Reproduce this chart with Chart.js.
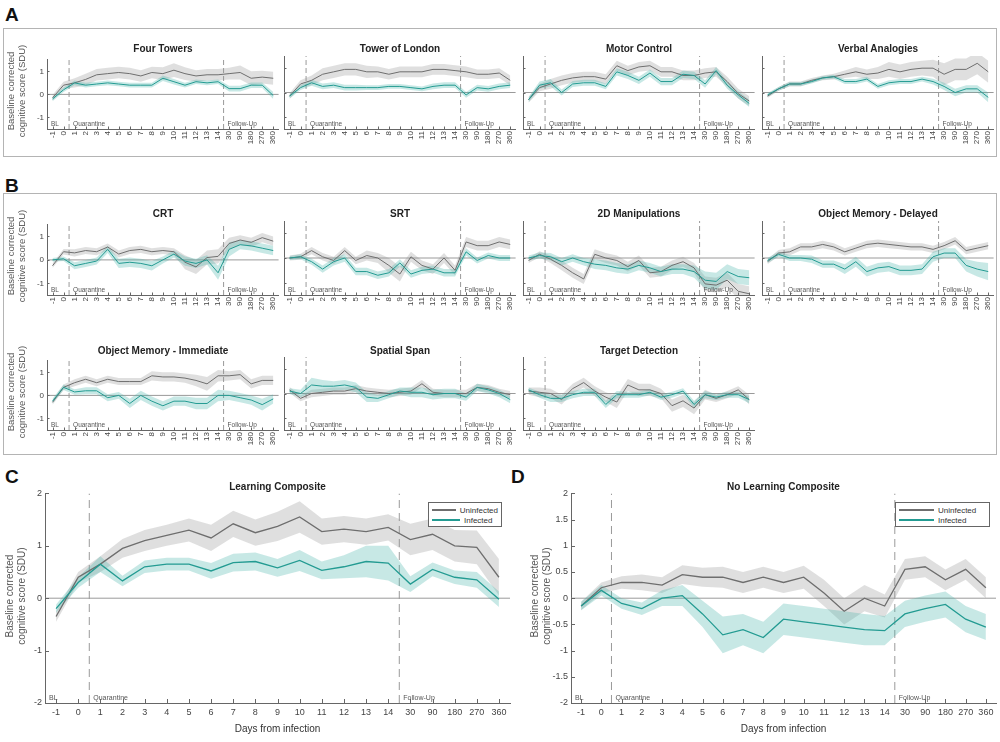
<!DOCTYPE html>
<html><head><meta charset="utf-8">
<script src="https://cdn.jsdelivr.net/npm/chart.js@4.4.1/dist/chart.umd.min.js"></script>
<style>
body{margin:0;background:#fff;font-family:'Liberation Sans',Arial,sans-serif;}
#root{position:relative;width:1000px;height:742px;overflow:hidden;background:#fff;}
.box{position:absolute;border:1.5px solid #b4b4b4;box-sizing:border-box;}
.plab{position:absolute;font-weight:bold;font-size:19px;color:#111;line-height:1;}
.ttl{position:absolute;font-weight:bold;font-size:10px;color:#222;transform:translate(-50%,-50%);white-space:nowrap;}
.ytl{position:absolute;color:#555;text-align:center;white-space:nowrap;transform-origin:50% 50%;transform:rotate(-90deg);}
.leg{position:absolute;border:1px solid #666;background:#fff;box-sizing:border-box;font-size:8px;color:#333;padding:2px 3px;}
.leg .r{display:flex;align-items:center;height:10px;white-space:nowrap;}
.leg .ln{display:inline-block;height:1.3px;margin-right:4px;}
</style></head>
<body><div id="root"></div>
<script>
// ---------------- DATA ----------------
const xLabels = ['-1','0','1','2','3','4','5','6','7','8','9','10','11','12','13','14','30','90','180','270','360'];
const yTicksSmall = [-1, 0, 1];
const yTicksLearning = [-2, -1, 0, 1, 2];
const yTicksNoLearning = [-2, -1.5, -1, -0.5, 0, 0.5, 1, 1.5, 2];
const phaseLabels = ['BL', 'Quarantine', 'Follow-Up'];
const phaseStarts = [-0.5, 1.5, 15.5];      // category-index positions where each phase begins
const phaseBoundaries = [1.5, 15.5];        // dashed lines: between day 0 and 1, between day 14 and 30
const seriesNames = ['Uninfected', 'Infected'];

const fourTowersUninf    = [-0.15,0.4,0.5,0.65,0.85,0.9,0.95,0.9,0.8,0.95,0.9,1.05,0.9,0.8,0.85,0.85,0.9,0.95,0.7,0.75,0.7];
const fourTowersUninfErr = [0.12,0.15,0.2,0.25,0.25,0.25,0.25,0.25,0.25,0.25,0.28,0.3,0.28,0.25,0.25,0.25,0.25,0.3,0.3,0.28,0.28];
const fourTowersInf      = [-0.2,0.2,0.5,0.4,0.45,0.5,0.45,0.4,0.4,0.4,0.7,0.55,0.4,0.55,0.5,0.55,0.25,0.25,0.4,0.4,-0.05];
const fourTowersInfErr   = [0.1,0.1,0.1,0.1,0.1,0.1,0.1,0.1,0.1,0.1,0.12,0.12,0.1,0.1,0.1,0.1,0.12,0.12,0.12,0.12,0.15];

const towerLondonUninf    = [-0.15,0.35,0.5,0.75,0.85,0.95,0.95,0.85,0.85,0.75,0.85,0.85,0.85,0.95,0.95,0.9,0.85,0.75,0.75,0.8,0.5];
const towerLondonUninfErr = [0.12,0.15,0.2,0.25,0.25,0.25,0.25,0.25,0.22,0.22,0.22,0.22,0.22,0.22,0.22,0.22,0.22,0.2,0.2,0.2,0.2];
const towerLondonInf      = [-0.15,0.2,0.4,0.25,0.3,0.2,0.2,0.2,0.2,0.25,0.25,0.2,0.15,0.25,0.3,0.3,-0.1,0.2,0.15,0.25,0.3];
const towerLondonInfErr   = [0.1,0.1,0.12,0.12,0.12,0.12,0.12,0.1,0.1,0.1,0.1,0.1,0.1,0.12,0.12,0.12,0.12,0.12,0.12,0.12,0.12];

const motorUninf    = [-0.3,0.2,0.35,0.5,0.6,0.65,0.65,0.55,1.1,0.9,1.05,1.1,0.85,0.85,0.7,0.7,0.8,0.85,0.45,-0.05,-0.35];
const motorUninfErr = [0.12,0.15,0.2,0.2,0.2,0.2,0.2,0.2,0.2,0.2,0.2,0.2,0.2,0.2,0.2,0.2,0.2,0.2,0.2,0.2,0.2];
const motorInf      = [-0.3,0.3,0.4,0.0,0.35,0.4,0.4,0.25,0.85,0.7,0.5,0.8,0.45,0.45,0.75,0.7,0.35,0.9,0.3,-0.1,-0.45];
const motorInfErr   = [0.1,0.15,0.15,0.12,0.12,0.12,0.12,0.12,0.15,0.15,0.15,0.15,0.15,0.15,0.15,0.15,0.15,0.15,0.15,0.15,0.15];

const verbalUninf    = [-0.15,0.15,0.35,0.35,0.5,0.6,0.65,0.75,0.85,0.75,0.8,0.95,0.85,0.95,1.0,1.0,0.75,0.95,0.95,1.2,0.85];
const verbalUninfErr = [0.08,0.08,0.1,0.1,0.1,0.1,0.12,0.15,0.2,0.2,0.25,0.3,0.3,0.3,0.3,0.35,0.45,0.45,0.45,0.45,0.45];
const verbalInf      = [-0.1,0.15,0.35,0.35,0.45,0.6,0.65,0.45,0.45,0.55,0.25,0.4,0.45,0.45,0.55,0.45,0.25,0.0,0.15,0.15,-0.2];
const verbalInfErr   = [0.08,0.08,0.08,0.08,0.08,0.08,0.08,0.1,0.1,0.1,0.1,0.1,0.1,0.1,0.1,0.12,0.15,0.15,0.15,0.15,0.2];

const crtUninf    = [-0.25,0.35,0.3,0.4,0.35,0.55,0.25,0.4,0.45,0.35,0.4,0.35,-0.1,-0.3,0.1,0.15,0.7,0.85,0.75,0.95,0.8];
const crtUninfErr = [0.1,0.12,0.15,0.15,0.15,0.15,0.15,0.15,0.15,0.15,0.15,0.15,0.3,0.3,0.3,0.3,0.25,0.2,0.2,0.2,0.2];
const crtInf      = [0.0,0.05,-0.25,-0.15,-0.05,0.45,-0.15,-0.1,-0.15,-0.25,0.0,0.25,-0.05,-0.15,0.0,-0.55,0.45,0.65,0.6,0.5,0.4];
const crtInfErr   = [0.08,0.1,0.15,0.15,0.15,0.15,0.2,0.2,0.2,0.2,0.15,0.15,0.2,0.2,0.2,0.3,0.3,0.2,0.2,0.2,0.2];

const srtUninf    = [0.0,0.05,0.3,0.05,-0.1,0.3,-0.1,0.1,0.0,-0.3,-0.65,0.05,-0.3,-0.45,0.0,-0.5,0.65,0.5,0.5,0.65,0.55];
const srtUninfErr = [0.1,0.12,0.15,0.15,0.15,0.15,0.15,0.2,0.2,0.3,0.3,0.2,0.2,0.2,0.2,0.2,0.2,0.2,0.2,0.2,0.2];
const srtInf      = [0.0,0.05,-0.15,-0.45,-0.15,0.0,-0.55,-0.55,-0.7,-0.6,-0.2,-0.65,-0.5,-0.45,-0.6,-0.6,0.25,-0.1,0.1,0.0,0.0];
const srtInfErr   = [0.08,0.1,0.12,0.15,0.15,0.15,0.15,0.15,0.15,0.15,0.15,0.15,0.15,0.15,0.15,0.15,0.15,0.12,0.12,0.12,0.12];

const manip2dUninf    = [-0.1,0.15,-0.05,-0.3,-0.6,-0.85,0.15,0.0,-0.1,-0.35,-0.1,-0.6,-0.55,-0.3,-0.15,-0.4,-1.05,-1.1,-0.9,-1.35,-1.45];
const manip2dUninfErr = [0.1,0.12,0.15,0.2,0.2,0.2,0.2,0.2,0.2,0.2,0.2,0.2,0.2,0.2,0.2,0.2,0.3,0.3,0.3,0.3,0.3];
const manip2dInf      = [0.0,0.1,0.05,-0.15,0.0,-0.15,-0.25,-0.3,-0.4,-0.45,-0.3,-0.4,-0.55,-0.45,-0.45,-0.55,-0.9,-0.95,-0.55,-0.75,-0.8];
const manip2dInfErr   = [0.1,0.12,0.15,0.15,0.15,0.15,0.2,0.2,0.2,0.2,0.2,0.2,0.2,0.2,0.2,0.25,0.35,0.35,0.3,0.3,0.3];

const omDelayedUninf    = [-0.15,0.2,0.25,0.45,0.45,0.55,0.45,0.25,0.4,0.55,0.6,0.55,0.5,0.45,0.45,0.35,0.5,0.7,0.3,0.4,0.5];
const omDelayedUninfErr = [0.1,0.12,0.15,0.15,0.15,0.15,0.15,0.15,0.15,0.15,0.15,0.15,0.15,0.15,0.15,0.15,0.15,0.15,0.15,0.15,0.15];
const omDelayedInf      = [-0.1,0.15,0.0,0.0,-0.05,-0.25,-0.25,-0.45,-0.15,-0.55,-0.4,-0.35,-0.5,-0.5,-0.45,0.05,0.2,0.2,-0.3,-0.45,-0.55];
const omDelayedInfErr   = [0.1,0.1,0.12,0.12,0.15,0.15,0.15,0.2,0.2,0.2,0.2,0.2,0.2,0.2,0.2,0.2,0.2,0.2,0.25,0.3,0.35];

const omImmediateUninf    = [-0.3,0.35,0.55,0.7,0.55,0.7,0.6,0.6,0.6,0.85,0.8,0.8,0.75,0.65,0.5,0.85,0.85,0.9,0.5,0.65,0.65];
const omImmediateUninfErr = [0.1,0.12,0.15,0.15,0.15,0.15,0.15,0.15,0.15,0.2,0.2,0.2,0.2,0.25,0.3,0.25,0.2,0.2,0.2,0.2,0.2];
const omImmediateInf      = [-0.25,0.35,0.15,0.2,0.2,-0.1,0.0,-0.35,0.0,-0.25,-0.45,-0.25,-0.25,-0.35,-0.35,0.0,0.0,-0.1,-0.2,-0.4,-0.15];
const omImmediateInfErr   = [0.1,0.12,0.12,0.15,0.15,0.15,0.15,0.2,0.2,0.2,0.2,0.2,0.2,0.25,0.25,0.25,0.2,0.2,0.2,0.25,0.2];

const spatialUninf    = [0.15,-0.2,0.0,0.05,0.1,0.1,0.2,0.1,0.05,0.0,0.05,0.1,0.4,0.05,0.0,0.0,0.0,0.25,0.2,0.05,-0.05];
const spatialUninfErr = [0.12,0.12,0.15,0.15,0.15,0.15,0.15,0.15,0.15,0.15,0.15,0.15,0.15,0.15,0.15,0.15,0.15,0.15,0.15,0.15,0.15];
const spatialInf      = [0.1,0.0,0.35,0.3,0.3,0.35,0.25,-0.15,-0.2,-0.05,0.1,0.05,0.05,-0.05,0.0,0.0,-0.15,0.25,0.15,0.0,-0.25];
const spatialInfErr   = [0.12,0.15,0.3,0.25,0.2,0.2,0.2,0.2,0.15,0.15,0.15,0.2,0.2,0.2,0.2,0.2,0.15,0.15,0.15,0.15,0.15];

const targetUninf    = [0.1,0.05,0.0,-0.25,0.2,0.45,0.1,-0.15,-0.35,0.35,0.15,0.15,0.0,-0.5,-0.3,-0.6,-0.05,-0.2,-0.05,0.15,-0.25];
const targetUninfErr = [0.15,0.2,0.2,0.2,0.2,0.2,0.2,0.2,0.25,0.25,0.25,0.25,0.2,0.25,0.25,0.25,0.2,0.15,0.15,0.15,0.2];
const targetInf      = [0.15,-0.05,-0.2,-0.2,-0.05,0.05,0.05,-0.45,-0.05,-0.05,-0.05,0.05,-0.15,-0.05,0.1,-0.45,-0.05,-0.15,-0.05,-0.05,-0.25];
const targetInfErr   = [0.1,0.12,0.15,0.15,0.15,0.15,0.15,0.15,0.15,0.12,0.12,0.12,0.12,0.12,0.12,0.15,0.15,0.12,0.12,0.12,0.15];

const learningUninf    = [-0.35,0.4,0.65,0.95,1.1,1.2,1.3,1.15,1.42,1.25,1.37,1.55,1.27,1.32,1.27,1.35,1.12,1.22,1.0,0.97,0.4];
const learningUninfErr = [0.1,0.1,0.15,0.18,0.2,0.2,0.22,0.25,0.25,0.25,0.28,0.3,0.25,0.25,0.25,0.25,0.3,0.3,0.3,0.32,0.35];
const learningInf      = [-0.2,0.3,0.65,0.33,0.6,0.65,0.65,0.52,0.68,0.7,0.58,0.72,0.53,0.6,0.7,0.67,0.27,0.55,0.4,0.35,-0.02];
const learningInfErr   = [0.08,0.1,0.15,0.1,0.12,0.12,0.12,0.15,0.17,0.17,0.17,0.2,0.17,0.22,0.3,0.33,0.15,0.13,0.13,0.15,0.15];

const noLearningUninf    = [-0.15,0.2,0.3,0.3,0.25,0.45,0.4,0.4,0.3,0.4,0.3,0.4,0.1,-0.25,0.0,-0.15,0.55,0.6,0.35,0.55,0.2];
const noLearningUninfErr = [0.08,0.1,0.12,0.15,0.15,0.18,0.18,0.2,0.2,0.2,0.2,0.22,0.25,0.25,0.25,0.22,0.2,0.2,0.2,0.2,0.2];
const noLearningInf      = [-0.15,0.15,-0.1,-0.2,0.0,0.05,-0.3,-0.7,-0.6,-0.75,-0.4,-0.45,-0.5,-0.55,-0.6,-0.62,-0.3,-0.2,-0.12,-0.4,-0.55];
const noLearningInfErr   = [0.08,0.1,0.1,0.12,0.15,0.2,0.25,0.35,0.3,0.3,0.3,0.3,0.3,0.3,0.3,0.28,0.25,0.25,0.25,0.25,0.25];

// ---------------- STYLE / LAYOUT ----------------
const FONT = "'Liberation Sans', Arial, sans-serif";
const GRAY = '#6e6e6e', GRAY_BAND = 'rgba(150,150,150,0.30)';
const TEAL = '#239b92', TEAL_BAND = 'rgba(70,178,168,0.30)';
const AXIS = '#666', TICK = '#444', ZERO = '#9a9a9a', DASH = '#9a9a9a', PHASE = '#555';
const Y_TITLE = ['Baseline corrected', 'cognitive score (SDU)'];

const colLeft = [47, 284, 523, 762];
const SMALL_W = 232;
const rows = {
  A:  {top: 56,  bottom: 129, titleY: 48},
  B1: {top: 221, bottom: 295, titleY: 213},
  B2: {top: 357, bottom: 430, titleY: 350}
};
function smallLay(row, col) {
  const r = rows[row];
  return {left: colLeft[col], right: colLeft[col] + SMALL_W, top: r.top, bottom: r.bottom, titleY: r.titleY,
    yw: col === 0 ? 43 : 10, pt: 4, pr: 6, xh: 22, lw: 1, rot: 90, xfs: 8, yfs: 8, tickLen: 2.5,
    phaseFs: 6.5, dash: [5, 3], showY: col === 0, yTitleFs: 9.5, yTitleLh: 11, yTitleX: 16, xTitle: false};
}

const panels = [
  {title: 'Four Towers', u: fourTowersUninf, ue: fourTowersUninfErr, i: fourTowersInf, ie: fourTowersInfErr, lay: smallLay('A', 0)},
  {title: 'Tower of London', u: towerLondonUninf, ue: towerLondonUninfErr, i: towerLondonInf, ie: towerLondonInfErr, lay: smallLay('A', 1)},
  {title: 'Motor Control', u: motorUninf, ue: motorUninfErr, i: motorInf, ie: motorInfErr, lay: smallLay('A', 2)},
  {title: 'Verbal Analogies', u: verbalUninf, ue: verbalUninfErr, i: verbalInf, ie: verbalInfErr, lay: smallLay('A', 3)},
  {title: 'CRT', u: crtUninf, ue: crtUninfErr, i: crtInf, ie: crtInfErr, lay: smallLay('B1', 0)},
  {title: 'SRT', u: srtUninf, ue: srtUninfErr, i: srtInf, ie: srtInfErr, lay: smallLay('B1', 1)},
  {title: '2D Manipulations', u: manip2dUninf, ue: manip2dUninfErr, i: manip2dInf, ie: manip2dInfErr, lay: smallLay('B1', 2)},
  {title: 'Object Memory - Delayed', u: omDelayedUninf, ue: omDelayedUninfErr, i: omDelayedInf, ie: omDelayedInfErr, lay: smallLay('B1', 3)},
  {title: 'Object Memory - Immediate', u: omImmediateUninf, ue: omImmediateUninfErr, i: omImmediateInf, ie: omImmediateInfErr, lay: smallLay('B2', 0)},
  {title: 'Spatial Span', u: spatialUninf, ue: spatialUninfErr, i: spatialInf, ie: spatialInfErr, lay: smallLay('B2', 1)},
  {title: 'Target Detection', u: targetUninf, ue: targetUninfErr, i: targetInf, ie: targetInfErr, lay: smallLay('B2', 2)},
];
panels.forEach(p => { p.yMin = -1.5; p.yMax = 1.5; p.yTicks = yTicksSmall; });

const bigBase = {top: 493, bottom: 703, titleY: 486, pt: 8, xh: 32, lw: 1.3, rot: 0, xfs: 9, yfs: 9, tickLen: 4,
  phaseFs: 7, dash: [8, 5], showY: true, yTitleFs: 10, yTitleLh: 12, xTitle: true};
panels.push({title: 'Learning Composite', u: learningUninf, ue: learningUninfErr, i: learningInf, ie: learningInfErr,
  yMin: -2, yMax: 2, yTicks: yTicksLearning, lay: Object.assign({}, bigBase, {left: 45, right: 510, yw: 41, pr: 10, yTitleX: 16}),
  legend: {left: 428, top: 502, width: 74, height: 25, line: 28}});
panels.push({title: 'No Learning Composite', u: noLearningUninf, ue: noLearningUninfErr, i: noLearningInf, ie: noLearningInfErr,
  yMin: -2, yMax: 2, yTicks: yTicksNoLearning, lay: Object.assign({}, bigBase, {left: 571, right: 996, yw: 41, pr: 4, yTitleX: 541}),
  legend: {left: 895, top: 502, width: 95, height: 25, line: 35}});

// ---------------- RENDER ----------------
const root = document.getElementById('root');
function el(cls, style, text) {
  const d = document.createElement('div'); d.className = cls;
  Object.assign(d.style, style); if (text !== undefined) d.textContent = text;
  root.appendChild(d); return d;
}
el('box', {left: '3px', top: '28px', width: '994px', height: '129px'});
el('box', {left: '3px', top: '193px', width: '994px', height: '262px'});
el('plab', {left: '5px', top: '5px'}, 'A');
el('plab', {left: '5px', top: '176px'}, 'B');
el('plab', {left: '5px', top: '467px'}, 'C');
el('plab', {left: '511px', top: '467px'}, 'D');

const extras = {
  id: 'extras',
  afterDraw(chart, args, o) {
    const {ctx, chartArea: a, scales: {x, y}} = chart;
    ctx.save();
    ctx.strokeStyle = AXIS; ctx.lineWidth = 1; ctx.beginPath();
    xLabels.forEach((_, i) => { const px = Math.round(x.getPixelForValue(i)) + 0.5; ctx.moveTo(px, a.bottom); ctx.lineTo(px, a.bottom - o.len); });
    o.yTicks.forEach(v => { const py = Math.round(y.getPixelForValue(v)) + 0.5; ctx.moveTo(a.left, py); ctx.lineTo(a.left + o.len, py); });
    ctx.stroke();
    ctx.fillStyle = PHASE; ctx.font = o.fs + 'px ' + FONT; ctx.textBaseline = 'bottom'; ctx.textAlign = 'left';
    phaseLabels.forEach((t, k) => ctx.fillText(t, x.getPixelForValue(phaseStarts[k]) + 4, a.bottom - 1.5));
    ctx.restore();
  }
};

panels.forEach(p => {
  const L = p.lay;
  const W = L.yw + (L.right - L.left) + L.pr;
  const H = L.pt + (L.bottom - L.top) + L.xh;
  const cv = document.createElement('canvas');
  cv.width = W; cv.height = H;
  Object.assign(cv.style, {position: 'absolute', left: (L.left - L.yw) + 'px', top: (L.top - L.pt) + 'px', width: W + 'px', height: H + 'px'});
  root.appendChild(cv);
  el('ttl', {left: ((L.left + L.right) / 2) + 'px', top: L.titleY + 'px'}, p.title);
  if (L.showY) {
    const bw = 140, bh = 2 * L.yTitleLh;
    const cy = Math.round((L.top + L.bottom) / 2 - 2);
    const yt = el('ytl', {left: (L.yTitleX - bw / 2) + 'px', top: (cy - bh / 2) + 'px', width: bw + 'px', height: bh + 'px',
      fontSize: L.yTitleFs + 'px', lineHeight: L.yTitleLh + 'px'});
    Y_TITLE.forEach(s => { const d = document.createElement('div'); d.textContent = s; yt.appendChild(d); });
  }

  const pts = a => a.map((v, i) => ({x: i, y: v}));
  const up = (m, e) => m.map((v, i) => ({x: i, y: v + e[i]}));
  const lo = (m, e) => m.map((v, i) => ({x: i, y: v - e[i]}));
  const band = {borderColor: 'rgba(0,0,0,0)', borderWidth: 0, pointRadius: 0, tension: 0};
  const line = {pointRadius: 0, tension: 0, fill: false};
  const datasets = [
    Object.assign({}, line, {label: seriesNames[1], data: pts(p.i), borderColor: TEAL, borderWidth: L.lw}),
    Object.assign({}, line, {label: seriesNames[0], data: pts(p.u), borderColor: GRAY, borderWidth: L.lw}),
    Object.assign({}, band, {data: up(p.i, p.ie), fill: '+1', backgroundColor: TEAL_BAND}),
    Object.assign({}, band, {data: lo(p.i, p.ie), fill: false}),
    Object.assign({}, band, {data: up(p.u, p.ue), fill: '+1', backgroundColor: GRAY_BAND}),
    Object.assign({}, band, {data: lo(p.u, p.ue), fill: false}),
    Object.assign({}, line, {data: [{x: -0.5, y: 0}, {x: xLabels.length - 0.5, y: 0}], borderColor: ZERO, borderWidth: 1}),
  ];
  phaseBoundaries.forEach(b => datasets.push(Object.assign({}, line, {data: [{x: b, y: p.yMin}, {x: b, y: p.yMax}], borderColor: DASH, borderWidth: 1, borderDash: L.dash})));

  new Chart(cv, {
    type: 'line',
    data: {datasets},
    options: {
      responsive: false, animation: false, devicePixelRatio: 1,
      layout: {padding: {top: L.pt, right: L.pr, left: 0, bottom: 0}},
      plugins: {legend: {display: false}, tooltip: {enabled: false}, title: {display: false},
        extras: {len: L.tickLen, yTicks: p.yTicks, fs: L.phaseFs}},
      scales: {
        x: {type: 'linear', min: -0.5, max: xLabels.length - 0.5, bounds: 'data',
          afterBuildTicks: s => { s.ticks = xLabels.map((_, i) => ({value: i})); },
          afterFit: s => { s.height = L.xh; },
          ticks: {autoSkip: false, maxRotation: L.rot, minRotation: L.rot, padding: L.rot ? 2 : 4, color: TICK,
            font: {size: L.xfs, family: FONT}, callback: v => xLabels[v] !== undefined ? xLabels[v] : ''},
          grid: {display: true, drawOnChartArea: false, drawTicks: false},
          border: {display: true, color: AXIS, width: 1},
          title: {display: L.xTitle, text: 'Days from infection', color: '#333', font: {size: 10, family: FONT}, padding: 0}
        },
        y: {type: 'linear', min: p.yMin, max: p.yMax, bounds: 'data',
          afterBuildTicks: s => { s.ticks = p.yTicks.map(v => ({value: v})); },
          afterFit: s => { s.width = L.yw; },
          ticks: {display: L.showY, padding: 3, color: TICK, font: {size: L.yfs, family: FONT}, callback: v => String(v)},
          grid: {display: true, drawOnChartArea: false, drawTicks: false},
          border: {display: true, color: AXIS, width: 1},
          title: {display: false}
        }
      }
    },
    plugins: [extras]
  });

  if (p.legend) {
    const g = p.legend;
    const lg = el('leg', {left: g.left + 'px', top: g.top + 'px', width: g.width + 'px', height: g.height + 'px'});
    [[seriesNames[0], GRAY], [seriesNames[1], TEAL]].forEach(([name, col]) => {
      const r = document.createElement('div'); r.className = 'r';
      const s = document.createElement('span'); s.className = 'ln'; s.style.width = g.line + 'px'; s.style.background = col;
      r.appendChild(s); r.appendChild(document.createTextNode(name)); lg.appendChild(r);
    });
  }
});
</script></body></html>
